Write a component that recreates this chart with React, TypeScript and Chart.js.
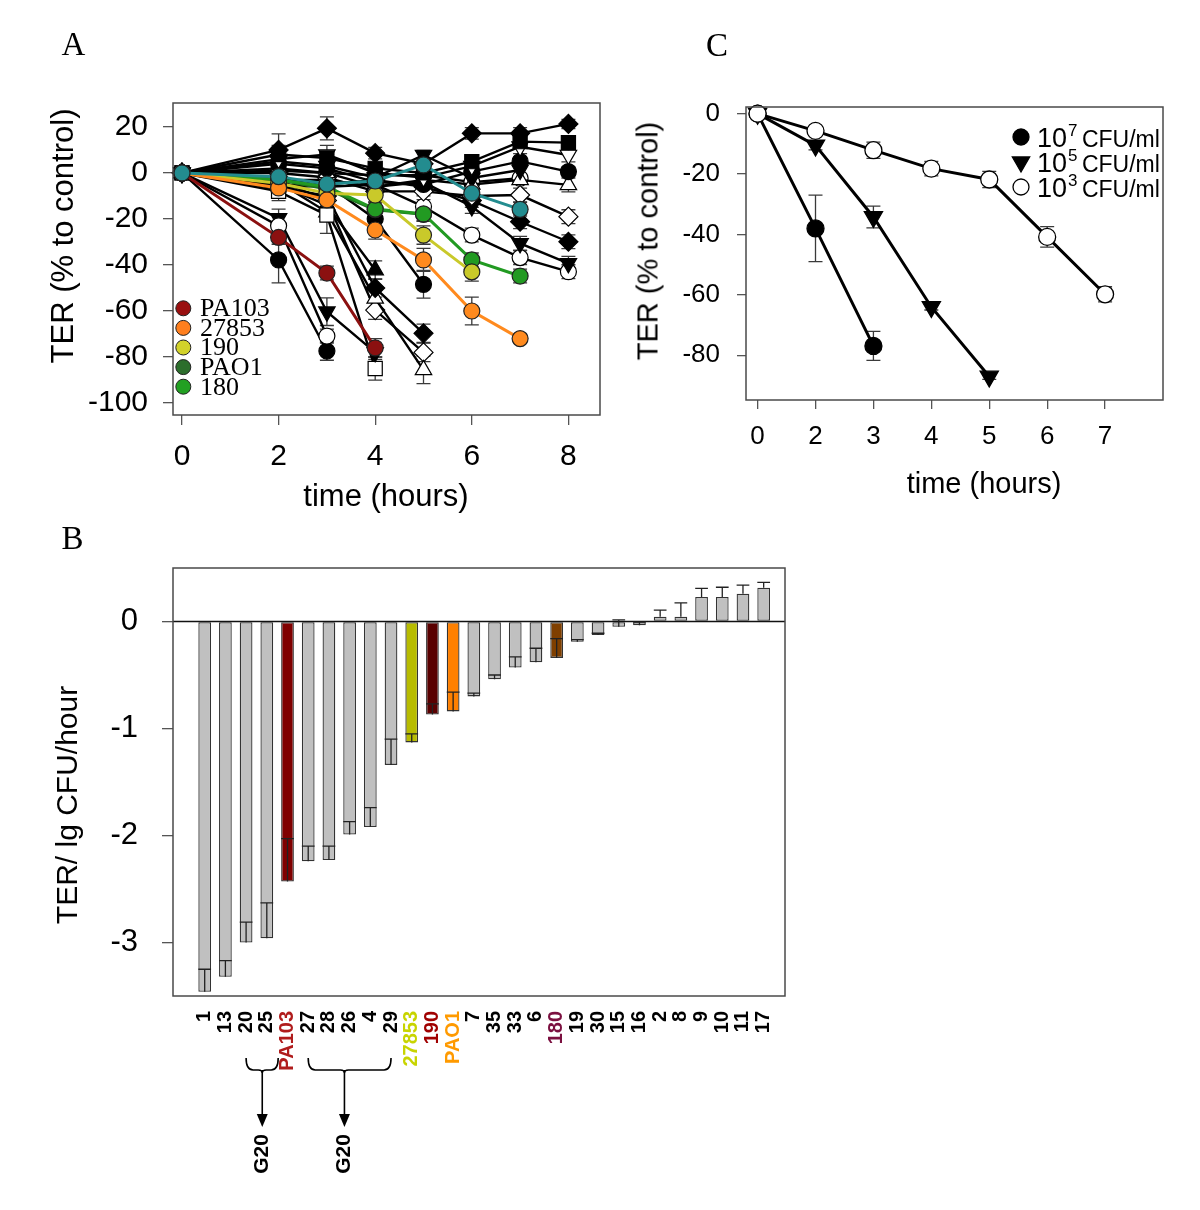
import React, { useEffect, useRef } from "react";
import { Chart, registerables } from "chart.js";
Chart.register(...registerables);

const SANS = "'Liberation Sans', Arial, Helvetica, sans-serif";
const SERIF = "'Liberation Serif', 'Times New Roman', Times, serif";

// ---------------- Panel A data ----------------
const A_TIMES = [0, 2, 3, 4, 5, 6, 7, 8];
const A_X_TICKS = [0, 2, 4, 6, 8];
const A_Y_TICKS = [20, 0, -20, -40, -60, -80, -100];

const A_TEAL = [0, -1.6, -4.8, -3.5, 3.5, -8.8, -15.8];
const A_TEAL_ERR = [0, 2, 2, 2, 2, 3, 3];
const A_PA103 = [0, -28, -43.5, -76];
const A_PA103_ERR = [0, 3, 3, 4];
const A_27853 = [0, -6.5, -11.7, -24.8, -37.8, -60, -72];
const A_27853_ERR = [0, 3, 3, 4, 5, 6, 2];
const A_190 = [0, -4.5, -8.8, -9.6, -27, -43];
const A_190_ERR = [0, 3, 3, 3, 4, 4];
const A_PAO1 = [0, -3, -7, -16, -18];
const A_PAO1_ERR = [0, 2, 2, 3, 3];
const A_180 = [0, -3, -6, -15.7, -17.8, -37.8, -44.8];
const A_180_ERR = [0, 2, 2, 3, 3, 3, 3];

const A_K1 = [0, 10, 19.4, 8.6, 4, 17.2, 17.2, 21.3];
const A_K1_ERR = [0, 7, 5, 2.5, 2, 2.5, 2.5, 2];
const A_K2 = [0, 8, 6.5, 2, 0, 4.9, 13.6, 13.2];
const A_K2_ERR = [0, 4, 3, 2, 2, 2.5, 2, 2];
const A_K3 = [0, 6, 8, 0, -2, 3, 11.4, 7.8];
const A_K3_ERR = [0, 3, 4, 2, 2, 3, 3, 3];
const A_K4 = [0, 5, 3, -2, 7.8, -2.2, 1.3];
const A_K4_ERR = [0, 3, 3, 2, 2, 3, 2];
const A_K5 = [0, 4, 2, -4, -5, 0.6, 5, 0.6];
const A_K5_ERR = [0, 3, 2, 2, 3, 2, 2, 2];
const A_K6 = [0, 2, 0, -6, -3, -5, -3, -5.2];
const A_K6_ERR = [0, 2, 3, 2, 2, 3, 2, 3];
const A_K7 = [0, 0, -2, -8, -8, -10, -9.6, -19];
const A_K7_ERR = [0, 2, 2, 2, 2, 3, 3, 3];
const A_K8 = [0, -2, -5, -3, -6, -12, -21.2, -29.9];
const A_K8_ERR = [0, 3, 2, 3, 2, 3, 3, 3];
const A_K9 = [0, -3, -3, -6, -4, -14.6, -30.6, -39.3];
const A_K9_ERR = [0, 3, 3, 3, 2, 3, 3, 3];
const A_K10 = [0, -5, -6, -5, -14.6, -27, -36.8, -42.9];
const A_K10_ERR = [0, 3, 3, 3, 3, 3, 3, 3];
const A_K11 = [0, 1, 0, -1, -1, -4, -2.3];
const A_K11_ERR = [0, 2, 2, 2, 2, 3, 2];
const A_K12 = [0, -23, -70.9];
const A_K12_ERR = [0, 5, 3];
const A_K13 = [0, -37.8, -77.4];
const A_K13_ERR = [0, 10, 4];
const A_K14 = [0, -19.7, -60.3, -78];
const A_K14_ERR = [0, 4, 6, 3];
const A_K15 = [0, -8, -18.3, -85];
const A_K15_ERR = [0, 4, 8, 5];
const A_K16 = [0, -5, -14, -42.2];
const A_K16_ERR = [0, 3, 3, 4];
const A_K17 = [0, -6, -10, -50, -69.7];
const A_K17_ERR = [0, 3, 3, 4, 4];
const A_K18 = [0, -4, -17, -54.5, -85.6];
const A_K18_ERR = [0, 3, 4, 5, 6];
const A_K19 = [0, -3, -12, -59.6, -78];
const A_K19_ERR = [0, 3, 3, 4, 4];
const A_K20 = [0, -7, -5, -20, -48.4];
const A_K20_ERR = [0, 3, 3, 3, 6];

const A_LEGEND_NAMES = ["PA103", "27853", "190", "PAO1", "180"];
const A_LEGEND_COLORS = ["#9a1010", "#ff7f1e", "#d2d22a", "#2c6e2c", "#22a022"];

// ---------------- Panel B data ----------------
const B_LABELS = ["1", "13", "20", "25", "PA103", "27", "28", "26", "4", "29", "27853", "190", "PAO1", "7", "35", "33", "6", "180", "19", "30", "15", "16", "2", "8", "9", "10", "11", "17"];
const B_VALUES = [-3.46, -3.32, -3.0, -2.96, -2.43, -2.24, -2.23, -1.99, -1.92, -1.34, -1.13, -0.87, -0.84, -0.7, -0.54, -0.43, -0.38, -0.34, -0.19, -0.125, -0.05, -0.035, 0.044, 0.044, 0.23, 0.23, 0.26, 0.315];
const B_ERRORS = [0.21, 0.15, 0.19, 0.33, 0.4, 0.14, 0.13, 0.12, 0.18, 0.24, 0.08, 0.1, 0.18, 0.03, 0.04, 0.1, 0.13, 0.18, 0.02, 0.015, 0.065, 0.03, 0.062, 0.13, 0.08, 0.09, 0.08, 0.05];
const B_BAR_COLORS = B_LABELS.map((l) =>
  l === "PA103" ? "#800000" : l === "27853" ? "#b8bc00" : l === "190" ? "#5a0000" : l === "PAO1" ? "#ff8000" : l === "180" ? "#7f3f00" : "#c0c0c0"
);
const B_LABEL_COLORS = B_LABELS.map((l) =>
  l === "PA103" ? "#b01c1c" : l === "27853" ? "#c8d400" : l === "190" ? "#a00000" : l === "PAO1" ? "#ff9a00" : l === "180" ? "#7b1040" : "#000"
);
const B_Y_TICKS = [0, -1, -2, -3];
const B_GROUP_FROM = [2, 5];
const B_GROUP_TO = [3.55, 9];
const B_GROUP_ARROW = [2.78, 6.75];
const B_GROUP_TEXT = ["G20", "G20"];

// ---------------- Panel C data ----------------
const C_LABELS = ["0", "2", "3", "4", "5", "6", "7"];
const C_Y_TICKS = [0, -20, -40, -60, -80];
const C_1E7 = [0, -38, -76.9];
const C_1E7_ERR = [0, 11, 4.8];
const C_1E5 = [0, -10.5, -34.2, -64, -87];
const C_1E5_ERR = [0, 1.5, 3.6, 1, 1];
const C_1E3 = [0, -5.7, -12.1, -18.2, -21.8, -40.8, -59.8];
const C_1E3_ERR = [0, 1, 2.7, 2.4, 2.7, 3.4, 2.5];
const C_LEGEND_EXP = ["7", "5", "3"];

// ---------------- helpers ----------------
const RADIUS: Record<string, number> = { circle: 8, rect: 10, rectRot: 9.5, triangle: 9.5 };

function colored(values: number[], errors: number[], color: string) {
  return { values, errors, line: color, lineWidth: 3, fill: color, stroke: "#222", style: "circle", rot: 0 };
}
function black(values: number[], errors: number[], style: string, open = false, rot = 0) {
  return { values, errors, line: "#000", lineWidth: 2.4, fill: open ? "#fff" : "#000", stroke: "#000", style, rot };
}

const A_SERIES = [
  colored(A_TEAL, A_TEAL_ERR, "#238c8f"),
  colored(A_PA103, A_PA103_ERR, "#8b1010"),
  colored(A_27853, A_27853_ERR, "#ff8a1e"),
  colored(A_190, A_190_ERR, "#c9c92a"),
  colored(A_180, A_180_ERR, "#229a22"),
  colored(A_PAO1, A_PAO1_ERR, "#1f701f"),
  black(A_K1, A_K1_ERR, "rectRot"),
  black(A_K2, A_K2_ERR, "rect"),
  black(A_K3, A_K3_ERR, "triangle", true, 180),
  black(A_K4, A_K4_ERR, "triangle", false, 180),
  black(A_K5, A_K5_ERR, "circle"),
  black(A_K6, A_K6_ERR, "triangle", true),
  black(A_K7, A_K7_ERR, "rectRot", true),
  black(A_K8, A_K8_ERR, "rectRot"),
  black(A_K9, A_K9_ERR, "triangle", false, 180),
  black(A_K10, A_K10_ERR, "circle", true),
  black(A_K11, A_K11_ERR, "circle", true),
  black(A_K12, A_K12_ERR, "circle", true),
  black(A_K13, A_K13_ERR, "circle"),
  black(A_K14, A_K14_ERR, "triangle", false, 180),
  black(A_K15, A_K15_ERR, "rect", true),
  black(A_K16, A_K16_ERR, "triangle"),
  black(A_K17, A_K17_ERR, "rectRot"),
  black(A_K18, A_K18_ERR, "triangle", true),
  black(A_K19, A_K19_ERR, "rectRot", true),
  black(A_K20, A_K20_ERR, "circle"),
];

const framePlugin = {
  id: "frame",
  afterDraw(chart: any) {
    const { ctx, chartArea: ca } = chart;
    ctx.save();
    ctx.strokeStyle = "#4a4a4a";
    ctx.lineWidth = 1.5;
    ctx.strokeRect(ca.left, ca.top, ca.right - ca.left, ca.bottom - ca.top);
    ctx.restore();
  },
};

const pointErrorPlugin = {
  id: "pointErrors",
  beforeDatasetsDraw(chart: any) {
    const { ctx } = chart;
    const xs = chart.scales.x;
    const ys = chart.scales.y;
    ctx.save();
    ctx.strokeStyle = "#3a3a3a";
    ctx.lineWidth = 1.3;
    chart.data.datasets.forEach((ds: any) => {
      const errs = ds.errors;
      if (!errs) return;
      ds.data.forEach((p: any, i: number) => {
        const e = errs[i];
        if (!e) return;
        const px = xs.getPixelForValue(p.x);
        const y1 = ys.getPixelForValue(p.y + e);
        const y2 = ys.getPixelForValue(p.y - e);
        ctx.beginPath();
        ctx.moveTo(px, y1);
        ctx.lineTo(px, y2);
        ctx.moveTo(px - 7, y1);
        ctx.lineTo(px + 7, y1);
        ctx.moveTo(px - 7, y2);
        ctx.lineTo(px + 7, y2);
        ctx.stroke();
      });
    });
    ctx.restore();
  },
};

const legendAPlugin = {
  id: "legendA",
  afterDraw(chart: any) {
    const { ctx, chartArea: ca } = chart;
    ctx.save();
    A_LEGEND_NAMES.forEach((name, i) => {
      const cy = ca.top + 205.3 + i * 19.6;
      const cx = ca.left + 10.3;
      ctx.beginPath();
      ctx.arc(cx, cy, 7.5, 0, Math.PI * 2);
      ctx.fillStyle = A_LEGEND_COLORS[i];
      ctx.fill();
      ctx.strokeStyle = "#222";
      ctx.lineWidth = 1;
      ctx.stroke();
      ctx.fillStyle = "#000";
      ctx.font = `26px ${SERIF}`;
      ctx.textBaseline = "middle";
      ctx.textAlign = "left";
      ctx.fillText(name, ca.left + 27, cy + 1);
    });
    ctx.restore();
  },
};

const legendCPlugin = {
  id: "legendC",
  afterDraw(chart: any) {
    const { ctx, chartArea: ca } = chart;
    ctx.save();
    C_LEGEND_EXP.forEach((exp, i) => {
      const cy = ca.top + 30 + i * 25;
      const mx = ca.right - 142;
      ctx.beginPath();
      if (i === 1) {
        const r = 10;
        ctx.moveTo(mx, cy + r);
        ctx.lineTo(mx - r * 0.866, cy - r / 2);
        ctx.lineTo(mx + r * 0.866, cy - r / 2);
        ctx.closePath();
      } else {
        ctx.arc(mx, cy, 8, 0, Math.PI * 2);
      }
      ctx.fillStyle = i === 2 ? "#fff" : "#000";
      ctx.fill();
      ctx.strokeStyle = "#000";
      ctx.lineWidth = 1.3;
      ctx.stroke();
      ctx.fillStyle = "#000";
      ctx.textBaseline = "alphabetic";
      ctx.textAlign = "left";
      let tx = ca.right - 126;
      ctx.font = `27px ${SANS}`;
      ctx.fillText("10", tx, cy + 10);
      tx += ctx.measureText("10").width + 1;
      ctx.font = `17px ${SANS}`;
      ctx.fillText(exp, tx, cy - 1);
      tx += ctx.measureText(exp).width - 2;
      ctx.font = `23px ${SANS}`;
      ctx.fillText(" CFU/ml", tx, cy + 10);
    });
    ctx.restore();
  },
};

const barExtrasPlugin = {
  id: "barExtras",
  afterDatasetsDraw(chart: any) {
    const { ctx, chartArea: ca } = chart;
    const ys = chart.scales.y;
    const meta = chart.getDatasetMeta(0);
    ctx.save();
    const y0 = ys.getPixelForValue(0);
    ctx.strokeStyle = "#111";
    ctx.lineWidth = 1.6;
    ctx.beginPath();
    ctx.moveTo(ca.left, y0);
    ctx.lineTo(ca.right, y0);
    ctx.stroke();
    ctx.strokeStyle = "#222";
    ctx.lineWidth = 1.3;
    meta.data.forEach((bar: any, i: number) => {
      const ya = ys.getPixelForValue(B_VALUES[i]);
      const yb = ys.getPixelForValue(B_VALUES[i] + B_ERRORS[i]);
      const hw = bar.width / 2;
      ctx.beginPath();
      ctx.moveTo(bar.x, ya);
      ctx.lineTo(bar.x, yb);
      ctx.moveTo(bar.x - hw, yb);
      ctx.lineTo(bar.x + hw, yb);
      ctx.stroke();
    });
    ctx.restore();
  },
  afterDraw(chart: any) {
    const { ctx, chartArea: ca } = chart;
    const xs = chart.scales.x;
    ctx.save();
    ctx.strokeStyle = "#000";
    ctx.fillStyle = "#000";
    ctx.lineWidth = 1.6;
    B_GROUP_FROM.forEach((from, g) => {
      const x1 = xs.getPixelForValue(from);
      const x2 = xs.getPixelForValue(B_GROUP_TO[g]);
      const xa = xs.getPixelForValue(B_GROUP_ARROW[g]);
      const top = ca.bottom + 62;
      const h = ca.bottom + 74;
      ctx.beginPath();
      ctx.moveTo(x1, top);
      ctx.quadraticCurveTo(x1, h, x1 + 7, h);
      ctx.lineTo(xa - 4, h);
      ctx.quadraticCurveTo(xa, h, xa, h + 3);
      ctx.quadraticCurveTo(xa, h, xa + 4, h);
      ctx.lineTo(x2 - 7, h);
      ctx.quadraticCurveTo(x2, h, x2, top);
      ctx.stroke();
      const tip = ca.bottom + 131;
      ctx.beginPath();
      ctx.moveTo(xa, h);
      ctx.lineTo(xa, tip - 10);
      ctx.stroke();
      ctx.beginPath();
      ctx.moveTo(xa, tip);
      ctx.lineTo(xa - 5.5, tip - 13);
      ctx.lineTo(xa + 5.5, tip - 13);
      ctx.closePath();
      ctx.fill();
      ctx.save();
      ctx.translate(xa, ca.bottom + 158);
      ctx.rotate(-Math.PI / 2);
      ctx.font = `bold 21px ${SANS}`;
      ctx.textAlign = "center";
      ctx.textBaseline = "middle";
      ctx.fillText(B_GROUP_TEXT[g], 0, 0);
      ctx.restore();
    });
    ctx.restore();
  },
};

function tickGrid(len: number) {
  return { drawOnChartArea: false, drawTicks: true, tickLength: len, color: "#555", lineWidth: 1.3 };
}

function configA(): any {
  const datasets = A_SERIES.map((s) => ({
    data: s.values.map((v, i) => ({ x: A_TIMES[i], y: v })),
    errors: s.errors,
    borderColor: s.line,
    borderWidth: s.lineWidth,
    pointStyle: s.style,
    pointRotation: s.rot,
    pointRadius: RADIUS[s.style],
    pointBackgroundColor: s.fill,
    pointBorderColor: s.stroke,
    pointBorderWidth: 1.2,
    tension: 0,
    fill: false,
    clip: 14,
  }));
  return {
    type: "line",
    data: { datasets },
    options: {
      responsive: false,
      animation: false,
      events: [],
      layout: { padding: { left: 0, top: 103, right: 20, bottom: 0 } },
      plugins: { legend: { display: false }, tooltip: { enabled: false } },
      scales: {
        x: {
          type: "linear",
          min: -0.186,
          max: 8.654,
          afterBuildTicks: (s: any) => {
            s.ticks = A_X_TICKS.map((v) => ({ value: v }));
          },
          afterFit: (s: any) => {
            s.height = 105;
          },
          grid: tickGrid(10),
          border: { display: false },
          ticks: { padding: 14, color: "#000", maxRotation: 0, autoSkip: false, font: { family: SANS, size: 30 }, callback: (v: any) => String(v) },
        },
        y: {
          type: "linear",
          min: -105.2,
          max: 30.4,
          afterBuildTicks: (s: any) => {
            s.ticks = A_Y_TICKS.map((v) => ({ value: v }));
          },
          afterFit: (s: any) => {
            s.width = 173;
          },
          grid: tickGrid(10),
          border: { display: false },
          ticks: { padding: 15, color: "#000", autoSkip: false, font: { family: SANS, size: 30 }, callback: (v: any) => String(v) },
        },
      },
    },
    plugins: [pointErrorPlugin, framePlugin, legendAPlugin],
  };
}

function configB(): any {
  return {
    type: "bar",
    data: {
      datasets: [
        {
          data: B_VALUES.map((v, i) => ({ x: i, y: v })),
          backgroundColor: B_BAR_COLORS,
          borderColor: "#333",
          borderWidth: 1.3,
          borderSkipped: false,
          barPercentage: 0.615,
          categoryPercentage: 1,
        },
      ],
    },
    options: {
      responsive: false,
      animation: false,
      events: [],
      layout: { padding: { left: 0, top: 48, right: 35, bottom: 0 } },
      plugins: { legend: { display: false }, tooltip: { enabled: false } },
      scales: {
        x: {
          type: "linear",
          offset: false,
          min: -1.531,
          max: 28.03,
          afterBuildTicks: (s: any) => {
            s.ticks = B_LABELS.map((_, i) => ({ value: i }));
          },
          afterFit: (s: any) => {
            s.height = 214;
          },
          grid: { display: false, drawTicks: false },
          border: { display: false },
          ticks: {
            autoSkip: false,
            minRotation: 90,
            maxRotation: 90,
            padding: 15,
            font: { family: SANS, size: 20, weight: "bold" },
            color: (c: any) => B_LABEL_COLORS[c.index] || "#000",
            callback: (v: any) => B_LABELS[v] ?? "",
          },
        },
        y: {
          type: "linear",
          min: -3.5,
          max: 0.5,
          afterBuildTicks: (s: any) => {
            s.ticks = B_Y_TICKS.map((v) => ({ value: v }));
          },
          afterFit: (s: any) => {
            s.width = 173;
          },
          grid: tickGrid(11),
          border: { display: false },
          ticks: { padding: 24, color: "#000", autoSkip: false, font: { family: SANS, size: 31 }, callback: (v: any) => String(v) },
        },
      },
    },
    plugins: [barExtrasPlugin, framePlugin],
  };
}

function configC(): any {
  const mk = (values: number[], errors: number[], style: string, open: boolean, rot: number, r: number) => ({
    data: values.map((v, i) => ({ x: i, y: v })),
    errors,
    borderColor: "#000",
    borderWidth: 3,
    pointStyle: style,
    pointRotation: rot,
    pointRadius: r,
    pointBackgroundColor: open ? "#fff" : "#000",
    pointBorderColor: "#000",
    pointBorderWidth: 1.3,
    tension: 0,
    fill: false,
    clip: 14,
  });
  return {
    type: "line",
    data: {
      datasets: [
        mk(C_1E3, C_1E3_ERR, "circle", true, 0, 8.5),
        mk(C_1E5, C_1E5_ERR, "triangle", false, 180, 10.5),
        mk(C_1E7, C_1E7_ERR, "circle", false, 0, 8.5),
      ],
    },
    options: {
      responsive: false,
      animation: false,
      events: [],
      layout: { padding: { left: 0, top: 107, right: 37, bottom: 0 } },
      plugins: { legend: { display: false }, tooltip: { enabled: false } },
      scales: {
        x: {
          type: "linear",
          min: -0.2,
          max: 7,
          afterBuildTicks: (s: any) => {
            s.ticks = C_LABELS.map((_, i) => ({ value: i }));
          },
          afterFit: (s: any) => {
            s.height = 120;
          },
          grid: tickGrid(9),
          border: { display: false },
          ticks: { padding: 12, color: "#000", maxRotation: 0, autoSkip: false, font: { family: SANS, size: 26 }, callback: (v: any) => C_LABELS[v] ?? "" },
        },
        y: {
          type: "linear",
          min: -94.8,
          max: 2.2,
          afterBuildTicks: (s: any) => {
            s.ticks = C_Y_TICKS.map((v) => ({ value: v }));
          },
          afterFit: (s: any) => {
            s.width = 126;
          },
          grid: tickGrid(9),
          border: { display: false },
          ticks: { padding: 17, color: "#000", autoSkip: false, font: { family: SANS, size: 26 }, callback: (v: any) => String(v) },
        },
      },
    },
    plugins: [pointErrorPlugin, framePlugin, legendCPlugin],
  };
}

function ChartCanvas(props: { make: () => any; left: number; top: number; width: number; height: number }) {
  const ref = useRef<HTMLCanvasElement | null>(null);
  useEffect(() => {
    const chart = new Chart(ref.current as HTMLCanvasElement, props.make());
    return () => chart.destroy();
  }, []);
  const { left, top, width, height } = props;
  return <canvas ref={ref} width={width} height={height} style={{ position: "absolute", left, top, width, height }} />;
}

function Label(props: { text: string; x: number; y: number; size: number; rotate?: boolean; serif?: boolean }) {
  return (
    <div
      style={{
        position: "absolute",
        left: props.x,
        top: props.y,
        transform: `translate(-50%, -50%)${props.rotate ? " rotate(-90deg)" : ""}`,
        whiteSpace: "nowrap",
        fontFamily: props.serif ? SERIF : SANS,
        fontSize: props.size,
        lineHeight: 1,
        color: "#000",
      }}
    >
      {props.text}
    </div>
  );
}

export default function App() {
  return (
    <div style={{ position: "absolute", left: 0, top: 0, width: 1200, height: 1210, background: "#fff", overflow: "hidden" }}>
      <ChartCanvas make={configA} left={0} top={0} width={620} height={520} />
      <ChartCanvas make={configC} left={620} top={0} width={580} height={520} />
      <ChartCanvas make={configB} left={0} top={520} width={820} height={690} />
      <Label text="A" x={73.5} y={44} size={33} serif />
      <Label text="C" x={717} y={45} size={33} serif />
      <Label text="B" x={72.5} y={538} size={33} serif />
      <Label text="TER (% to control)" x={61.5} y={236} size={31} rotate />
      <Label text="time (hours)" x={386} y={495} size={31} />
      <Label text="TER (% to control)" x={648} y={241} size={29} rotate />
      <Label text="time (hours)" x={984} y={483} size={29} />
      <Label text="TER/ lg CFU/hour" x={67} y={805} size={30} rotate />
    </div>
  );
}
